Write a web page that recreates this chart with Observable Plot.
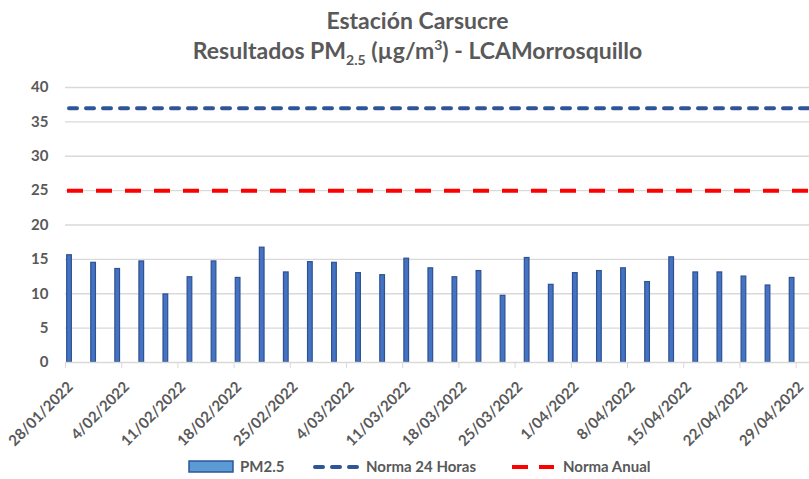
<!DOCTYPE html>
<html>
<head>
<meta charset="utf-8">
<script src="https://cdn.jsdelivr.net/npm/d3@7"></script>
<script src="https://cdn.jsdelivr.net/npm/@observablehq/plot@0.6"></script>
<style>
  html, body { margin: 0; padding: 0; background: #fff; }
  #wrap { position: relative; width: 809px; height: 479px; overflow: hidden; font-family: Lato, "Open Sans", sans-serif; color: #595959; }
  .t { position: absolute; left: 0; width: 809px; text-align: center; font-weight: bold; font-size: 23px; line-height: 28px; color: #595959; margin-left: 13px; }
  .t sub, .t sup { font-size: 14px; line-height: 0; }
  #chart { position: absolute; left: 0; top: 72px; }
  .leg { position: absolute; top: 456px; font-weight: bold; font-size: 15px; color: #595959; line-height: 20px; white-space: nowrap; }
  .leg svg { position: absolute; }
</style>
</head>
<body>
<div id="wrap">
  <div class="t" style="top:6px">Estación Carsucre</div>
  <div class="t" style="top:36px">Resultados PM<sub>2.5</sub> (µg/m<sup>3</sup>) - LCAMorrosquillo</div>
  <div id="chart"></div>
  <div class="leg" style="left:188px"><svg width="46" height="20" style="left:0;top:0"><rect x="1" y="5" width="44" height="11" fill="#5B9BD5" stroke="#2F5597" stroke-width="1.5"/></svg><span style="margin-left:52px">PM2.5</span></div>
  <div class="leg" style="left:311px"><svg width="50" height="20" style="left:0;top:0"><line x1="4" x2="46" y1="11" y2="11" stroke="#2E5597" stroke-width="4" stroke-dasharray="8,9" stroke-linecap="round"/></svg><span style="margin-left:55px">Norma 24 Horas</span></div>
  <div class="leg" style="left:510px"><svg width="46" height="20" style="left:0;top:0"><line x1="2" x2="44" y1="11" y2="11" stroke="#FF0000" stroke-width="4" stroke-dasharray="16,11"/></svg><span style="margin-left:53px">Norma Anual</span></div>
</div>
<script>
const dates = ["2022-01-28","2022-01-31","2022-02-03","2022-02-06","2022-02-09","2022-02-12","2022-02-15","2022-02-18","2022-02-21","2022-02-24","2022-02-27","2022-03-02","2022-03-05","2022-03-08","2022-03-11","2022-03-14","2022-03-17","2022-03-20","2022-03-23","2022-03-26","2022-03-29","2022-04-01","2022-04-04","2022-04-07","2022-04-10","2022-04-13","2022-04-16","2022-04-19","2022-04-22","2022-04-25","2022-04-28"];
const pm25 = [15.6,14.5,13.6,14.7,9.9,12.4,14.7,12.3,16.7,13.1,14.6,14.5,13.0,12.7,15.1,13.7,12.4,13.3,9.7,15.2,11.3,13.0,13.3,13.7,11.7,15.3,13.1,13.1,12.5,11.2,12.3];
const tickDates = ["2022-01-28","2022-02-04","2022-02-11","2022-02-18","2022-02-25","2022-03-04","2022-03-11","2022-03-18","2022-03-25","2022-04-01","2022-04-08","2022-04-15","2022-04-22","2022-04-29"];
const yTicks = [0,5,10,15,20,25,30,35,40];
const norma24 = 37;
const normaAnual = 25;

const parse = d3.utcParse("%Y-%m-%d");
const data = dates.map((d, i) => ({date: parse(d), value: pm25[i]}));
const ticks = tickDates.map(parse);
const fmt = d3.utcFormat("%-d/%m/%Y");

const chart = Plot.plot({
  width: 809,
  height: 380,
  marginLeft: 65,
  marginRight: 0,
  marginTop: 15,
  marginBottom: 90,
  style: {fontFamily: "Lato, 'Open Sans', sans-serif", fontSize: "15px", fontWeight: "bold", color: "#595959", background: "transparent"},
  x: {type: "utc", domain: [parse("2022-01-28"), new Date("2022-04-30T16:00:00Z")]},
  y: {domain: [0, 40]},
  marks: [
    Plot.gridY(yTicks.filter(v => v > 0), {stroke: "#D9D9D9", strokeOpacity: 1, strokeWidth: 1.3}),
    Plot.ruleY([normaAnual], {stroke: "#FF0000", strokeWidth: 4, strokeDasharray: "16,13", dx: 2}),
    Plot.ruleY([norma24], {stroke: "#2E5597", strokeWidth: 4, strokeDasharray: "8,9", strokeLinecap: "round", dx: 4}),
    Plot.rectY(data, {
      x1: d => d3.utcHour.offset(d.date, 5),
      x2: d => d3.utcHour.offset(d.date, 19),
      y: "value",
      fill: "#4472C4",
      stroke: "#2F528F",
      strokeWidth: 1.2
    }),
    Plot.ruleY([0], {stroke: "#D9D9D9", strokeWidth: 1.3}),
    Plot.axisY(yTicks, {tickSize: 0, tickPadding: 17, tickFormat: d => d, label: null, fontSize: 15}),
    Plot.axisX(ticks, {tickFormat: fmt, tickSize: 6, stroke: "#D9D9D9", label: null, text: null}),
    Plot.axisX(ticks, {tickFormat: fmt, tickRotate: -45, tickSize: 0, tickPadding: 14, dx: 5, dy: 8, label: null, fontSize: 15})
  ]
});
document.getElementById("chart").appendChild(chart);
</script>
</body>
</html>
